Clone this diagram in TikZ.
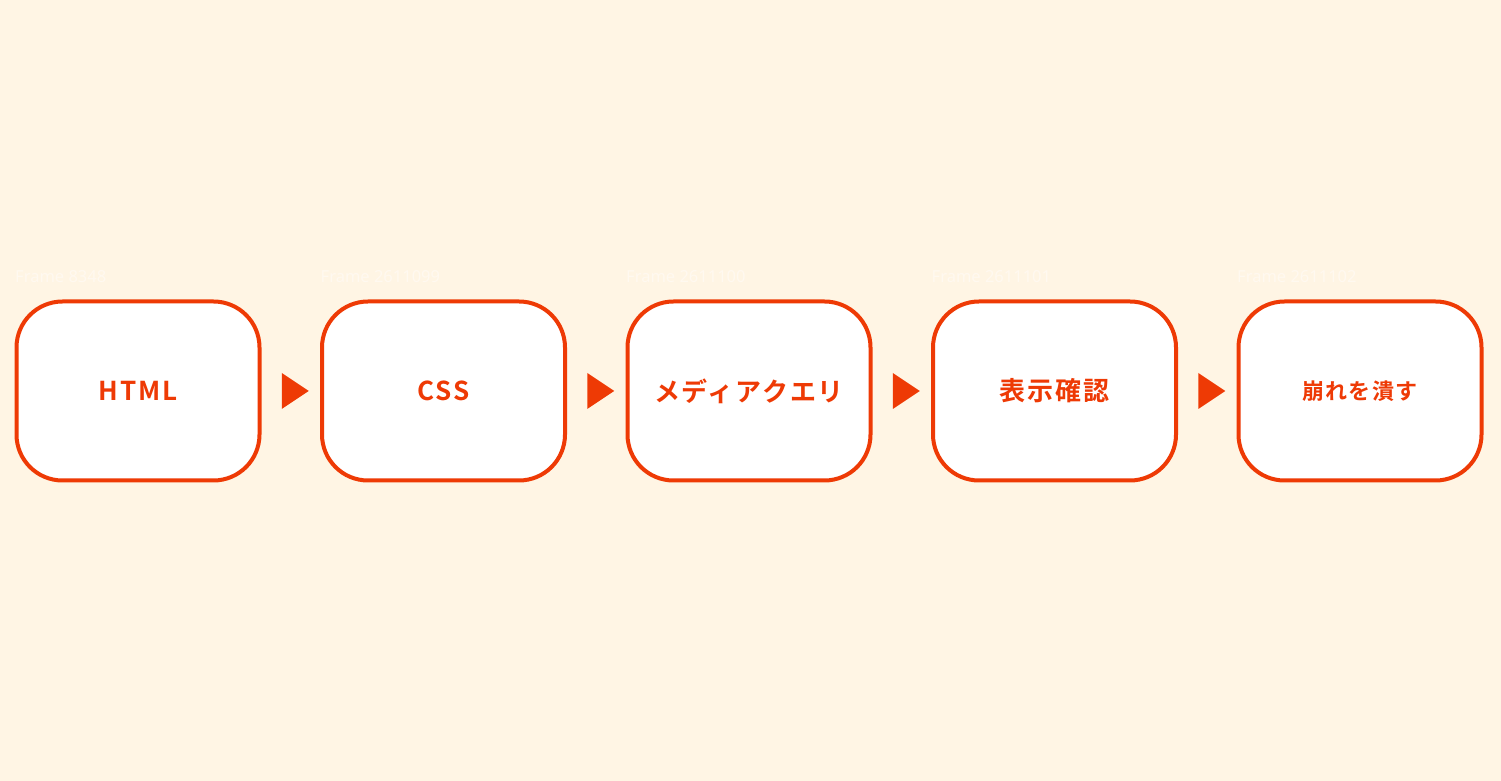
\documentclass[tikz,border=0pt]{standalone}
\usepackage{fontspec}
\usetikzlibrary{calc}
\newfontfamily\cjk{Noto Sans CJK JP}[BoldFont={Noto Sans CJK JP Bold}]
\setsansfont{Noto Sans}
\definecolor{bg}{HTML}{FFF5E4}
\definecolor{acc}{HTML}{EE3A05}
\definecolor{faint}{HTML}{FFF9F0}
\begin{document}
\begin{tikzpicture}[x=1pt,y=1pt,
  stepbox/.style={draw=acc,line width=4pt,fill=white,rounded corners=46pt,minimum width=243pt,minimum height=179pt,inner sep=0pt,font=\cjk\bfseries\fontsize{26}{30}\selectfont,text=acc},
  framelbl/.style={anchor=base west,inner sep=0pt,text=faint,font=\sffamily\fontsize{16.5}{18}\selectfont},
  tri/.style={fill=acc}]
\fill[bg] (0,0) rectangle (1501,781);
\useasboundingbox (0,0) rectangle (1501,781);
\foreach \i/\x/\lab/\t in {1/138/{Frame 8348}/{HTML},2/443.5/{Frame 2611099}/{CSS},3/749/{Frame 2611100}/{メディアクエリ},4/1054.5/{Frame 2611101}/{表示確認}}{
  \node[stepbox] (b\i) at (\x,390) {\addfontfeatures{LetterSpace=7}\t};
  \node[framelbl] (f\i) at (\x-123,498) {\lab};
}
\node[stepbox,font=\cjk\bfseries\fontsize{22}{26}\selectfont] (b5) at (1360,390) {\addfontfeatures{LetterSpace=6}崩れを潰す};
\node[framelbl] (f5) at (1237,498) {Frame 2611102};
\foreach \i/\j in {1/2,2/3,3/4,4/5}{
  \coordinate (m\i) at ($(b\i.east)!0.5!(b\j.west)$);
  \fill[tri] ($(m\i)+(-9,18)$) -- ($(m\i)+(18,0)$) -- ($(m\i)+(-9,-18)$) -- cycle;
}
\end{tikzpicture}
\end{document}
